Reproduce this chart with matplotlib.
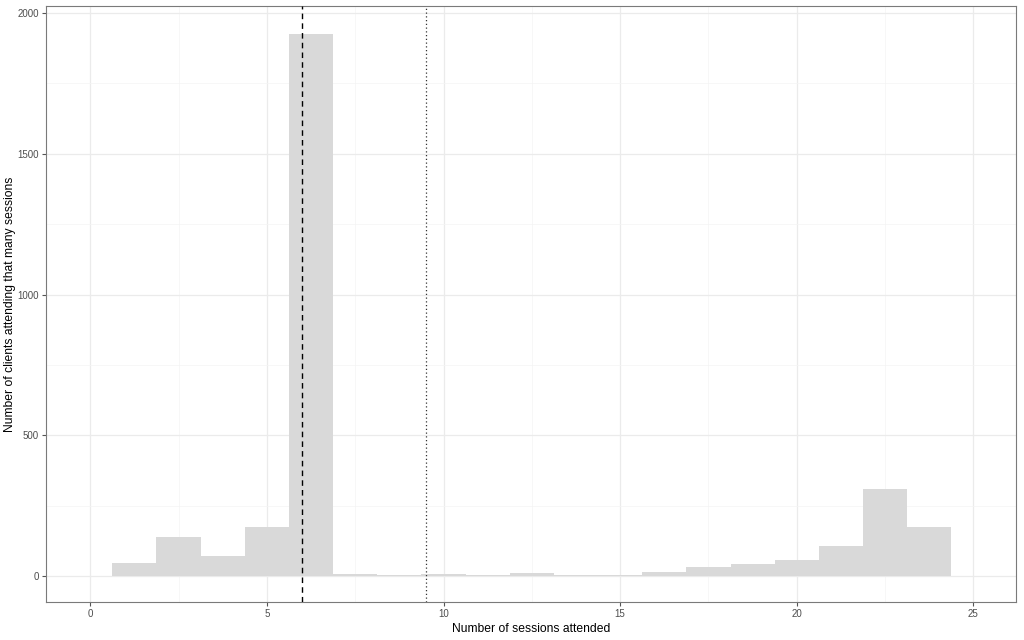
import numpy as np
import matplotlib
matplotlib.use("Agg")
import matplotlib.pyplot as plt

plt.rcParams['font.family'] = ['Liberation Sans', 'DejaVu Sans']

# Histogram of sessions attended
bin_start = 0.625
bin_width = 1.25
counts = [46, 138, 71, 174, 1926, 10, 4, 10, 6, 13, 3, 6, 17, 32, 43, 57, 106, 309, 174]
median_line = 6.0
mean_line = 9.5

x_ticks = [0, 5, 10, 15, 20, 25]
y_ticks = [0, 500, 1000, 1500, 2000]

edges = bin_start + bin_width * np.arange(len(counts))

fig = plt.figure(figsize=(10.24, 6.4), dpi=100)
ax = fig.add_axes([0.045, 0.059, 0.947, 0.932])

ax.bar(edges, counts, width=bin_width, align="edge", color="#D9D9D9",
       linewidth=0, zorder=2)
ax.axvline(median_line, color="black", linestyle=(0, (4, 3)), linewidth=1.0, zorder=3)
ax.axvline(mean_line, color="#333333", linestyle=(0, (1, 2)), linewidth=0.9, zorder=3)

ax.set_xlim(-1.25, 26.2)
ax.set_ylim(-92, 2025)
ax.set_xticks(x_ticks)
ax.set_yticks(y_ticks)
ax.set_xticks([2.5, 7.5, 12.5, 17.5, 22.5], minor=True)
ax.set_yticks([250, 750, 1250, 1750], minor=True)
ax.grid(which="major", color="#EBEBEB", linewidth=0.9, zorder=0)
ax.grid(which="minor", color="#F4F4F4", linewidth=0.5, zorder=0)
ax.set_axisbelow(True)

for s in ax.spines.values():
    s.set_color("#7A7A7A")
    s.set_linewidth(0.8)

ax.tick_params(which="major", length=3, width=0.8, color="#555555",
               labelcolor="#4D4D4D", labelsize=7, pad=2)
ax.tick_params(which="minor", length=0)

ax.set_xlabel("Number of sessions attended", fontsize=8.7, labelpad=3)
ax.set_ylabel("Number of clients attending that many sessions", fontsize=8.7, labelpad=1.5)

fig.savefig("out.png", dpi=100)
